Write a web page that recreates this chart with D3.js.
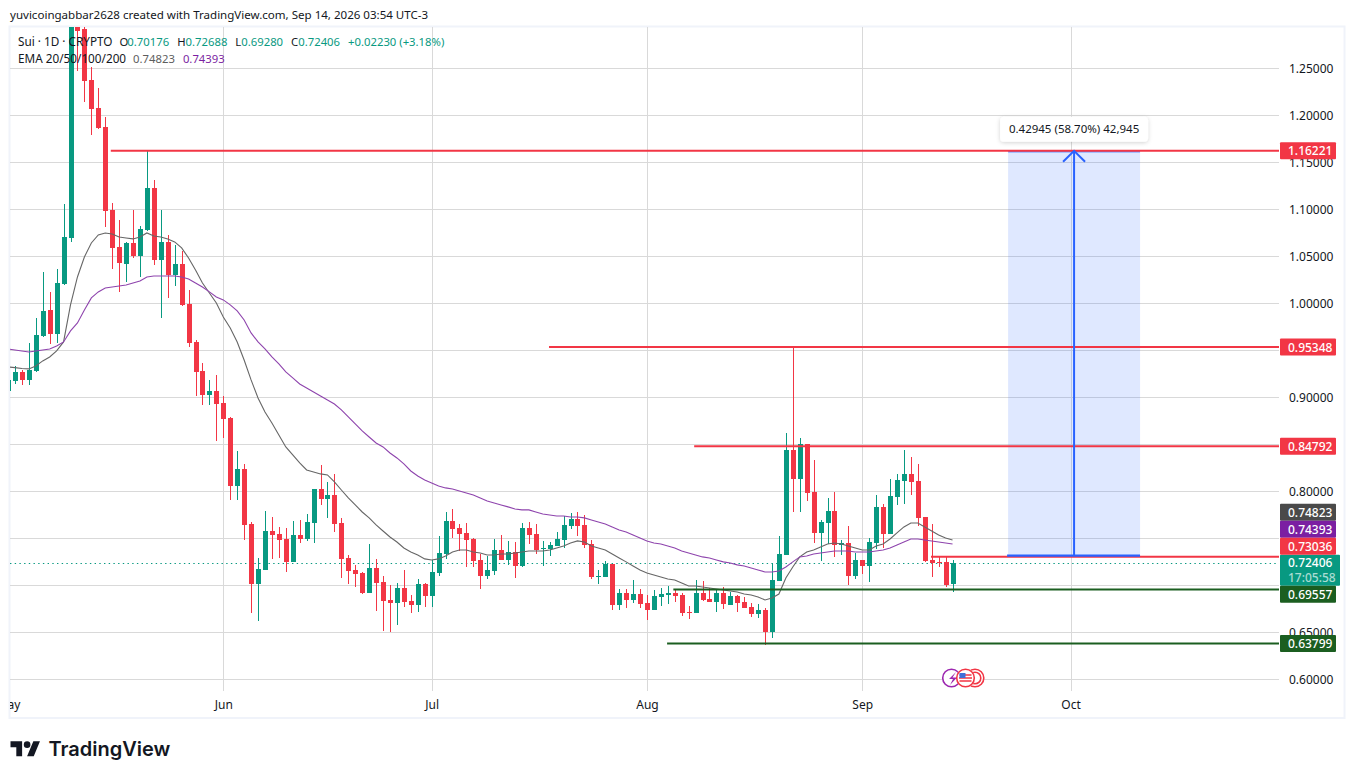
<!DOCTYPE html>
<html>
<head>
<meta charset="utf-8">
<script src="https://cdn.jsdelivr.net/npm/d3@7"></script>
<style>
body { margin: 0; background: #fff; }
svg { display: block; font-family: "Noto Sans", sans-serif; }
</style>
</head>
<body>
<svg id="chart" width="1355" height="779"></svg>
<script>
// daily candles, first one is May 1
const opens = [.9067,.9174,.9270,.9185,.9280,.9653,.9929,.9674,1.0206,1.0695,
1.2960,1.2918,1.2376,1.2078,1.1876,1.0993,1.0599,1.0418,1.0642,1.0503,
1.0780,1.1227,1.0461,1.0653,1.0302,1.0418,.9993,.9589,.9280,.9025,
.9067,.8940,.8780,.8057,.8238,.7652,.7014,.7163,.7578,.7546,
.7493,.7249,.7536,.7493,.7663,.8025,.7919,.7961,.7663,.7291,
.7163,.7131,.6918,.7184,.7035,.6844,.6812,.6971,.6833,.6791,
.7014,.6886,.7131,.7333,.7684,.7610,.7557,.7493,.7270,.7099,
.7152,.7376,.7270,.7355,.7206,.7610,.7546,.7387,.7387,.7419,
.7482,.7631,.7706,.7642,.7440,.7089,.7089,.7227,.6791,.6918,
.6844,.6907,.6812,.6738,.6876,.6897,.6918,.6897,.6717,.6706,
.6918,.6855,.6823,.6918,.6791,.6886,.6823,.6770,.6695,.6738,
.6504,.7046,.7323,.8440,.8131,.8504,.7993,.7557,.7663,.7791,
.7429,.7450,.7099,.7270,.7206,.7450,.7834,.7546,.7940,.8110,
.8185,.8110,.7727,.7270,.7249,.7249,.70176];
const highs = [.9206,.9334,.9291,.9578,.9844,1.0334,1.0121,1.0366,1.1056,1.3067,
1.3100,1.3014,1.2514,1.2291,1.1982,1.1067,1.0887,1.0653,1.0993,1.0823,
1.1622,1.1312,1.0993,1.0727,1.0621,1.0557,1.0142,.9610,.9365,.9185,
.9238,.9014,.8791,.8429,.8291,.7674,.7291,.7791,.7727,.7621,
.7610,.7684,.7695,.7759,.8025,.8280,.8100,.8185,.7717,.7323,
.7217,.7142,.7440,.7281,.7099,.7003,.7025,.7163,.6897,.7067,
.7025,.7270,.7525,.7780,.7812,.7652,.7663,.7504,.7333,.7312,
.7493,.7536,.7472,.7461,.7663,.7674,.7652,.7472,.7461,.7567,
.7738,.7770,.7780,.7748,.7482,.7163,.7259,.7227,.6961,.6961,
.7057,.6961,.6897,.6950,.6971,.6993,.6961,.6918,.6780,.7057,
.7046,.6971,.6950,.6982,.6929,.6897,.6876,.6812,.6801,.6759,
.7238,.7525,.8621,.9535,.8567,.8504,.8334,.7695,.7929,.7993,
.7482,.7631,.7344,.7270,.7504,.7961,.7865,.8131,.8185,.8440,
.8365,.8291,.7727,.7652,.7302,.7302,.72688];
const lows = [.9046,.9142,.9131,.9131,.9270,.9642,.9568,.9578,1.0195,1.0653,
1.2471,1.2142,1.1791,1.1855,1.0812,1.0366,1.0121,1.0227,1.0482,1.0280,
1.0770,1.0408,.9844,1.0057,1.0184,.9972,.9536,.9014,.8919,.8919,
.8535,.8567,.7908,.7908,.7482,.6706,.6620,.7163,.7281,.7291,
.7142,.7249,.7450,.7472,.7450,.7855,.7717,.7567,.7078,.7014,
.6982,.6907,.6918,.6727,.6514,.6504,.6578,.6770,.6706,.6717,
.6770,.6770,.7099,.7281,.7504,.7365,.7195,.7195,.6961,.7067,
.7110,.7270,.7217,.7078,.7195,.7440,.7333,.7206,.7312,.7419,
.7397,.7599,.7525,.7397,.7067,.7014,.7089,.6738,.6738,.6759,
.6812,.6759,.6631,.6738,.6780,.6801,.6823,.6674,.6642,.6706,
.6833,.6823,.6717,.6749,.6791,.6717,.6759,.6664,.6653,.6370,
.6440,.7046,.7323,.7780,.7780,.7897,.7450,.7259,.7440,.7302,
.7323,.7003,.7067,.7120,.7035,.7387,.7397,.7546,.7855,.7865,
.7961,.7631,.7249,.7089,.7195,.6982,.69280];
const closes = [.9185,.9270,.9185,.9291,.9663,.9919,.9674,1.0216,1.0706,1.2993,
1.2897,1.2365,1.2067,1.1865,1.0982,1.0589,1.0429,1.0642,1.0503,1.0791,
1.1227,1.0461,1.0653,1.0302,1.0418,.9983,.9578,.9270,.9025,.9067,
.8929,.8770,.8057,.8238,.7642,.7014,.7174,.7578,.7536,.7482,
.7249,.7536,.7493,.7674,.8025,.7919,.7961,.7652,.7281,.7152,
.7120,.6918,.7184,.7025,.6833,.6812,.6971,.6823,.6791,.7014,
.6886,.7142,.7344,.7684,.7599,.7546,.7482,.7259,.7099,.7163,
.7376,.7270,.7355,.7206,.7610,.7536,.7376,.7397,.7429,.7493,
.7642,.7706,.7631,.7429,.7089,.7099,.7227,.6791,.6918,.6844,
.6907,.6801,.6738,.6886,.6907,.6918,.6886,.6706,.6706,.6918,
.6844,.6823,.6918,.6801,.6886,.6812,.6759,.6695,.6738,.6504,
.7057,.7333,.8440,.8131,.8504,.7982,.7557,.7674,.7791,.7429,
.7450,.7099,.7270,.7206,.7461,.7834,.7546,.7950,.8121,.8185,
.8100,.7717,.7259,.7238,.7238,.7003,.72406];

const ema20 = [.9323,.9316,.9307,.9302,.9334,.9387,.9429,.9493,.9589,.9983,
1.0280,1.0493,1.0642,1.0727,1.0748,1.0738,1.0706,1.0695,1.0685,1.0706,
1.0748,1.0716,1.0706,1.0685,1.0653,1.0589,1.0482,1.0355,1.0216,1.0110,
1.0004,.9855,.9738,.9589,.9397,.9185,.8993,.8844,.8727,.8599,
.8472,.8387,.8302,.8227,.8206,.8185,.8174,.8100,.8014,.7929,
.7855,.7780,.7717,.7642,.7578,.7514,.7461,.7397,.7355,.7323,
.7281,.7270,.7281,.7312,.7355,.7376,.7376,.7355,.7344,.7323,
.7323,.7333,.7333,.7344,.7355,.7365,.7365,.7365,.7376,.7397,
.7419,.7450,.7472,.7461,.7419,.7397,.7376,.7333,.7291,.7249,
.7206,.7163,.7131,.7110,.7089,.7067,.7057,.7025,.6993,.6993,
.6982,.6971,.6961,.6950,.6940,.6929,.6907,.6897,.6876,.6844,
.6865,.6907,.7078,.7195,.7302,.7355,.7376,.7408,.7440,.7450,
.7440,.7419,.7397,.7376,.7376,.7419,.7440,.7493,.7557,.7621,
.7663,.7663,.7621,.7578,.7536,.7504,.74823];
const ema50 = [.9514,.9504,.9493,.9482,.9493,.9504,.9514,.9546,.9589,.9706,
.9791,.9929,1.0057,1.0121,1.0163,1.0174,1.0184,1.0195,1.0216,1.0238,
1.0280,1.0291,1.0291,1.0291,1.0291,1.0280,1.0259,1.0216,1.0174,1.0121,
1.0068,1.0036,.9983,.9919,.9823,.9685,.9589,.9514,.9429,.9355,
.9270,.9206,.9142,.9099,.9057,.9014,.8972,.8929,.8866,.8791,
.8717,.8642,.8578,.8514,.8472,.8408,.8355,.8291,.8216,.8163,
.8121,.8089,.8057,.8036,.8025,.8004,.7982,.7961,.7929,.7897,
.7876,.7855,.7834,.7812,.7802,.7802,.7780,.7759,.7748,.7738,
.7738,.7727,.7727,.7717,.7695,.7674,.7652,.7621,.7589,.7567,
.7536,.7504,.7472,.7450,.7440,.7419,.7397,.7365,.7344,.7323,
.7302,.7291,.7270,.7249,.7238,.7217,.7206,.7184,.7163,.7142,
.7142,.7152,.7195,.7249,.7302,.7312,.7333,.7344,.7355,.7365,
.7365,.7365,.7355,.7355,.7355,.7365,.7376,.7397,.7429,.7461,
.7493,.7493,.7482,.7472,.7461,.7450,.74393];

const gridPrices = [.6,.65,.7,.75,.8,.85,.9,.95,1,1.05,1.1,1.15,1.2,1.25];
// the others sit behind the price tags
const labelPrices = [.6,.65,.8,.9,1,1.05,1.1,1.15,1.2,1.25];
const monthNames = ['May','Jun','Jul','Aug','Sep','Oct'];
const monthDays = [0,31,61,92,123,153];

const levelPrices = [1.16221,.95348,.84792,.73036,.69557,.63799];
const levelStarts = [14.8,77.9,98.8,132.9,95.8,94.9];
const levelColors = ['#f23645','#f23645','#f23645','#f23645','#1b5e20','#1b5e20'];

const measureDays = [144,163];
const measurePrices = [.7315,1.16221];
const measureLabel = '0.42945 (58.70%) 42,945';

const lastPrice = .72406;
const countdown = '17:05:58';

const tagPrices = [.74823,.74393,.73036,.69557];
const tagColors = ['#4a4a4a','#7b1fa2','#f23645','#1b5e20'];

const GREEN = '#089981', RED = '#f23645', INK = '#131722', GRID = '#d9d9d9', BLUE = '#2962ff';

const svg = d3.select('#chart');

let x = d3.scaleLinear().domain([0,153]).range([8,1070.6]);
let y = d3.scaleLinear().domain([.6,1.25]).range([679.3,68.3]);

const pane = {left: 10, right: 1279, top: 27, bottom: 691};

let defs = svg.append('defs');
defs.append('clipPath').attr('id','pane').append('rect')
	.attr('x',pane.left).attr('y',pane.top)
	.attr('width',pane.right-pane.left).attr('height',pane.bottom-pane.top);
defs.append('clipPath').attr('id','frame-time').append('rect')
	.attr('x',pane.left).attr('y',-10).attr('width',1334).attr('height',40);

// outer frame
svg.append('rect').attr('x',9.5).attr('y',26.5).attr('width',1335).attr('height',691.5)
	.attr('fill','none').attr('stroke','#f0f3fa').attr('stroke-width',2);

// gridlines
let hgrid = svg.append('g').attr('transform','translate('+pane.left+',0)')
	.call(d3.axisRight(y).tickValues(gridPrices).tickSize(pane.right-pane.left).tickFormat(''));
let vgrid = svg.append('g').attr('transform','translate(0,'+pane.top+')')
	.call(d3.axisBottom(x).tickValues(monthDays.slice(1)).tickSize(pane.bottom-pane.top).tickFormat(''));
[hgrid,vgrid].forEach(g => {
	g.select('.domain').remove();
	g.selectAll('line').attr('stroke',GRID).attr('shape-rendering','crispEdges');
});

// price scale labels
let priceAxis = svg.append('g').attr('transform','translate(1289,0)')
	.call(d3.axisRight(y).tickValues(labelPrices).tickSize(0).tickPadding(0).tickFormat(d3.format('.5f')));
priceAxis.select('.domain').remove();
priceAxis.selectAll('text').attr('fill',INK).attr('font-size',12).attr('font-family','"Noto Sans", sans-serif');

// month labels
let timeAxis = svg.append('g').attr('transform','translate(0,700.5)').attr('clip-path','url(#frame-time)')
	.call(d3.axisBottom(x).tickValues(monthDays).tickSize(0).tickPadding(0).tickFormat((d,i) => monthNames[i]));
timeAxis.select('.domain').remove();
timeAxis.selectAll('text').attr('fill',INK).attr('font-size',12).attr('font-family','"Noto Sans", sans-serif');

// measure box
svg.append('rect')
	.attr('x',x(measureDays[0])).attr('y',y(measurePrices[1]))
	.attr('width',x(measureDays[1])-x(measureDays[0]))
	.attr('height',y(measurePrices[0])-y(measurePrices[1]))
	.attr('fill',BLUE).attr('fill-opacity',.15);

let plot = svg.append('g').attr('clip-path','url(#pane)');

// dotted last price line
plot.append('line').attr('x1',pane.left).attr('x2',pane.right)
	.attr('y1',Math.round(y(lastPrice))+.5).attr('y2',Math.round(y(lastPrice))+.5)
	.attr('stroke',GREEN).attr('stroke-width',1.2).attr('stroke-dasharray','1.4 3.3');

// candles
const days = d3.range(opens.length);
const candleColor = i => closes[i] >= opens[i] ? GREEN : RED;

let candles = plot.append('g').attr('shape-rendering','crispEdges');
candles.selectAll('.wick').data(days).enter().append('rect')
	.attr('class','wick')
	.attr('x',i => Math.round(x(i)))
	.attr('y',i => y(highs[i]))
	.attr('width',1)
	.attr('height',i => y(lows[i])-y(highs[i]))
	.attr('fill',candleColor);
candles.selectAll('.body').data(days).enter().append('rect')
	.attr('class','body')
	.attr('x',i => Math.round(x(i))-2)
	.attr('y',i => y(Math.max(opens[i],closes[i])))
	.attr('width',5)
	.attr('height',i => Math.max(1,Math.abs(y(opens[i])-y(closes[i]))))
	.attr('fill',candleColor);

// moving averages
let emaLine = series => d3.line().x((d,i) => x(i)).y(d => y(d))(series);
plot.append('path').attr('d',emaLine(ema20)).attr('fill','none').attr('stroke','#666').attr('stroke-width',1.1);
plot.append('path').attr('d',emaLine(ema50)).attr('fill','none').attr('stroke','#8e44ad').attr('stroke-width',1.1);

// measure top edge goes under the red level
let arrowX = x((measureDays[0]+measureDays[1])/2);
plot.append('line').attr('x1',x(measureDays[0])).attr('x2',x(measureDays[1]))
	.attr('y1',y(measurePrices[1])+1).attr('y2',y(measurePrices[1])+1).attr('stroke',BLUE).attr('stroke-width',1);

// horizontal levels
plot.selectAll('.level').data(levelPrices).enter().append('line')
	.attr('class','level')
	.attr('x1',(d,i) => x(levelStarts[i])).attr('x2',pane.right)
	.attr('y1',d => y(d)).attr('y2',d => y(d))
	.attr('stroke',(d,i) => levelColors[i]).attr('stroke-width',2);

// measure bottom edge and arrow
svg.append('line').attr('x1',x(measureDays[0])-1).attr('x2',x(measureDays[1]))
	.attr('y1',y(measurePrices[0])).attr('y2',y(measurePrices[0])).attr('stroke',BLUE).attr('stroke-width',2.2);
svg.append('line').attr('x1',arrowX).attr('x2',arrowX)
	.attr('y1',y(measurePrices[0])).attr('y2',y(measurePrices[1]))
	.attr('stroke',BLUE).attr('stroke-width',2);
svg.append('path')
	.attr('d','M'+(arrowX-11)+','+(y(measurePrices[1])+11)+'L'+arrowX+','+y(measurePrices[1])+'L'+(arrowX+11)+','+(y(measurePrices[1])+11))
	.attr('fill','none').attr('stroke',BLUE).attr('stroke-width',2);

// measure label
defs.append('filter').attr('id','soft').attr('x','-10%').attr('y','-30%').attr('width','120%').attr('height','170%')
	.append('feDropShadow').attr('dx',0).attr('dy',1).attr('stdDeviation',2).attr('flood-color','#000').attr('flood-opacity',.18);
svg.append('rect').attr('x',arrowX-74).attr('y',y(measurePrices[1])-34).attr('width',148).attr('height',25).attr('rx',4)
	.attr('fill','#fff').attr('filter','url(#soft)');
svg.append('text').attr('x',arrowX).attr('y',y(measurePrices[1])-18).attr('text-anchor','middle')
	.attr('font-size',11.5).attr('fill',INK).text(measureLabel);

// price tags: the last price tag stays put, the others get pushed away from it
function drawTag(top,h,color,w) {
	svg.append('rect').attr('x',1280).attr('y',top).attr('width',w).attr('height',h).attr('rx',1).attr('fill',color);
}
function tagText(str,base,fill) {
	svg.append('text').attr('x',1288).attr('y',base).attr('font-size',12).attr('font-weight',500).attr('fill',fill).text(str);
}
const TAG_H = 17;
let lastTop = y(lastPrice)-8, lastBottom = lastTop+31;
let above = lastTop, below = lastBottom;
let tagTops = tagPrices.map(p => y(p)-TAG_H/2);
tagPrices.map((p,i) => i).filter(i => tagPrices[i] > lastPrice).reverse().forEach(i => {
	tagTops[i] = Math.min(tagTops[i],above-TAG_H);
	above = tagTops[i];
});
tagPrices.map((p,i) => i).filter(i => tagPrices[i] < lastPrice).forEach(i => {
	tagTops[i] = Math.max(tagTops[i],below);
	below = tagTops[i]+TAG_H;
});
drawTag(lastTop,31,GREEN,60);
tagText(d3.format('.5f')(lastPrice),lastTop+12.5,'#fff');
tagText(countdown,lastTop+27,'#a9dcd2');
tagPrices.forEach((p,i) => {
	drawTag(tagTops[i],TAG_H,tagColors[i],56);
	tagText(d3.format('.5f')(p),tagTops[i]+13,'#fff');
});
levelPrices.forEach((p,i) => {
	if (tagPrices.includes(p)) return;
	drawTag(y(p)-TAG_H/2,TAG_H,levelColors[i],56);
	tagText(d3.format('.5f')(p),y(p)+4.5,'#fff');
});

// header
svg.append('text').attr('x',10).attr('y',18.5).attr('font-size',11.55).attr('fill',INK)
	.text('yuvicoingabbar2628 created with TradingView.com, Sep 14, 2026 03:54 UTC-3');

function legendRow(top,parts) {
	let t = svg.append('text').attr('x',18).attr('y',top);
	parts.forEach(p => t.append('tspan').attr('dx',p[2] || 0).attr('fill',p[1]).attr('font-size',p[3]).text(p[0]));
}
legendRow(46,[['Sui · 1D · CRYPTO',INK,0,11.75],['O',INK,7,11.3],['0.70176',GREEN,-1,11.3],['H',INK,8,11.3],['0.72688',GREEN,0,11.3],['L',INK,8,11.3],['0.69280',GREEN,0,11.3],['C',INK,8,11.3],['0.72406',GREEN,0,11.3],['+0.02230 (+3.18%)',GREEN,8,11.3]]);
legendRow(62.5,[['EMA 20/50/100/200',INK,0,11.75],['0.74823','#5d5d5d',7,11.3],['0.74393','#7b1fa2',8,11.3]]);

// event markers
let events = svg.append('g').attr('fill','#fff').attr('stroke-width',1.6);
events.append('circle').attr('cx',975).attr('cy',678).attr('r',8.8).attr('stroke',RED);
events.append('circle').attr('cx',975).attr('cy',678).attr('r',5.8).attr('stroke',RED);
events.append('circle').attr('cx',951.5).attr('cy',678).attr('r',8.8).attr('stroke','#9c27b0');
events.append('path').attr('d','M956,672L949,679H953L950,685L957,677.5H952.5Z').attr('fill','#9c27b0').attr('stroke','none');
events.append('circle').attr('cx',965.5).attr('cy',678).attr('r',9.5).attr('fill','#fff').attr('stroke','none');
events.append('circle').attr('cx',965.5).attr('cy',678).attr('r',8.8).attr('stroke',RED);
events.append('path').attr('d','M959.5,675H971.5M959,678H972M959.5,681H971.5').attr('stroke',RED).attr('stroke-width',1.6);
events.append('rect').attr('x',959.5).attr('y',673).attr('width',6).attr('height',5).attr('fill','#3f6fd8').attr('stroke','none');

// logo
let logo = svg.append('g').attr('transform','translate(10.5,738) scale(.83)').attr('fill','#131722');
logo.append('path').attr('d','M14 22H7V11H0V4h14v18zM28 22h-8l7.5-18h8L28 22z');
logo.append('circle').attr('cx',20).attr('cy',8).attr('r',4);
svg.append('text').attr('x',48.5).attr('y',756).attr('font-size',20).attr('font-weight',600)
	.attr('font-family','Inter, sans-serif').attr('fill','#131722').text('TradingView');
</script>
</body>
</html>
